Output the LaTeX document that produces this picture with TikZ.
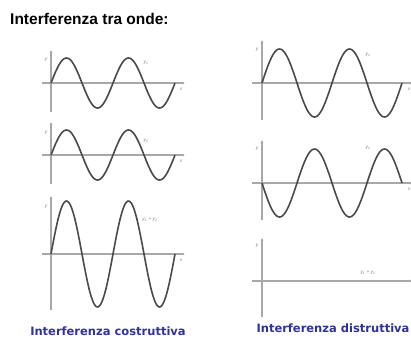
\documentclass[tikz,border=0pt]{standalone}
\usepackage{fontspec}
\setmainfont{Liberation Sans}
\newfontfamily\capfont{DejaVu Sans}
\usetikzlibrary{arrows.meta}
\definecolor{axisgray}{HTML}{A8A8A8}
\definecolor{wavegray}{HTML}{4A4A4A}
\definecolor{capblue}{HTML}{30329A}
\tikzset{
  axisline/.style={draw=axisgray, line width=1.1pt},
  axisarrow/.style={axisline, -{Latex[length=3pt,width=3pt,fill=wavegray]}},
  wave/.style={draw=wavegray, line width=1.6pt, smooth, samples=120},
  lbl/.style={text=gray, font=\fontsize{4.8}{5}\selectfont\itshape, inner sep=0pt},
  title/.style={font=\fontsize{15.5}{17}\selectfont\bfseries, inner sep=0pt, anchor=west},
  caption/.style={text=capblue, font=\capfont\fontsize{11.5}{13}\selectfont\bfseries, inner sep=0pt}
}
\begin{document}
\begin{tikzpicture}[x=1pt,y=-1pt]
\useasboundingbox (0,0) rectangle (411,338);
\node[title] (t) at (10,19) {Interferenza tra onde:};
% ---------- left column ----------
% panel 1
\draw[axisarrow] (51,112) -- (51,50);
\draw[axisarrow] (42,83) -- (185,83);
\draw[wave] plot[domain=51:175] (\x,{83-25*sin((\x-51)/62*360)});
\node[lbl] (ly1) at (46,60) {y};
\node[lbl] (l11) at (146,63) {y\textsubscript{1}};
\node[lbl] (lx1) at (181,89) {x};
% panel 2
\draw[axisarrow] (51,184) -- (51,122);
\draw[axisarrow] (42,155) -- (185,155);
\draw[wave] plot[domain=51:175] (\x,{155-25*sin((\x-51)/62*360)});
\node[lbl] (ly2) at (46,133) {y};
\node[lbl] (l12) at (146,141) {y\textsubscript{2}};
\node[lbl] (lx2) at (181,161) {x};
% panel 3
\draw[axisarrow] (51,310) -- (51,196);
\draw[axisarrow] (42,254) -- (185,254);
\draw[wave] plot[domain=51:175] (\x,{254-53*sin((\x-51)/62*360)});
\node[lbl] (ly3) at (46,207) {y};
\node[lbl] (l13) at (150,220) {y\textsubscript{1} + y\textsubscript{2}};
\node[lbl] (lx3) at (181,260) {x};
\node[caption] (c1) at (108,331) {Interferenza costruttiva};
% ---------- right column ----------
% panel 1
\draw[axisarrow] (262,120) -- (262,40);
\draw[axisarrow] (252,83) -- (413,83);
\draw[wave] plot[domain=262:402] (\x,{83-34*sin((\x-262)/70*360)});
\node[lbl] (ry1) at (257,50) {y};
\node[lbl] (r11) at (368,55) {y\textsubscript{1}};
\node[lbl] (rx1) at (409,89) {x};
% panel 2
\draw[axisarrow] (262,220) -- (262,140);
\draw[axisarrow] (252,183) -- (413,183);
\draw[wave] plot[domain=262:402] (\x,{183+34*sin((\x-262)/70*360)});
\node[lbl] (ry2) at (257,149) {y};
\node[lbl] (r12) at (368,148) {y\textsubscript{2}};
\node[lbl] (rx2) at (409,189) {x};
% panel 3
\draw[axisarrow] (262,317) -- (262,238);
\draw[axisarrow] (252,281) -- (413,281);
\node[lbl] (ry3) at (257,246) {y};
\node[lbl] (r13) at (368,273) {y\textsubscript{1} + y\textsubscript{2}};
\node[caption] (c2) at (333,328) {Interferenza distruttiva};
\end{tikzpicture}
\end{document}
